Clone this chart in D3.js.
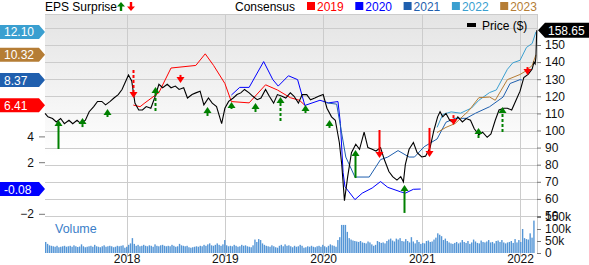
<!DOCTYPE html>
<html>
<head>
<meta charset="utf-8">
<script src="https://cdn.jsdelivr.net/npm/d3@7"></script>
<style>
  body { margin: 0; background: #fff; }
  svg { font-family: Arial, "Liberation Sans", sans-serif; }
</style>
</head>
<body>
<script>
// weekly close (date, $)
const price = [
  ['2017-03-04',110],['2017-03-15',108],['2017-04-01',107],['2017-04-15',105],['2017-05-01',107],
  ['2017-05-15',104],['2017-06-01',106],['2017-06-15',104],['2017-07-01',106],['2017-07-15',104],
  ['2017-08-01',106],['2017-08-15',111],['2017-09-01',114],['2017-09-15',117],['2017-10-01',117],
  ['2017-10-15',115],['2017-11-01',117],['2017-11-15',119],['2017-12-01',121],['2017-12-15',124],
  ['2018-01-01',130],['2018-01-08',132.5],['2018-01-20',129],['2018-02-01',116],['2018-02-15',112],
  ['2018-03-01',112],['2018-03-15',114],['2018-04-01',113],['2018-04-15',119],['2018-05-01',127],
  ['2018-05-15',125],['2018-06-01',127],['2018-06-15',125],['2018-07-01',126],['2018-07-15',124],
  ['2018-08-01',125],['2018-08-15',119],['2018-09-01',121],['2018-09-15',122],['2018-10-01',123],
  ['2018-10-15',115],['2018-11-01',119],['2018-11-15',116],['2018-12-01',114],['2018-12-20',104],
  ['2019-01-01',113],['2019-01-15',117],['2019-02-01',119],['2019-02-15',121],['2019-03-01',122],
  ['2019-03-15',124],['2019-04-01',122],['2019-04-15',120],['2019-05-01',118],['2019-05-15',119],
  ['2019-06-01',124],['2019-06-15',120],['2019-07-01',116],['2019-07-15',121],['2019-08-01',120],
  ['2019-08-15',119],['2019-09-01',122],['2019-09-15',120],['2019-10-01',116],['2019-10-15',121],
  ['2019-11-01',121],['2019-11-15',118],['2019-12-01',119],['2019-12-15',120],['2020-01-01',121],
  ['2020-01-15',113],['2020-02-01',108],['2020-02-15',106],['2020-03-01',93],['2020-03-10',80],
  ['2020-03-20',59],['2020-04-01',73],['2020-04-15',87],['2020-05-01',92],['2020-05-15',89],
  ['2020-06-01',99],['2020-06-15',90],['2020-07-01',89],['2020-07-15',88],['2020-08-01',90],
  ['2020-08-15',83],['2020-09-01',76],['2020-09-15',73],['2020-10-01',71],['2020-10-15',73],
  ['2020-10-25',70],['2020-11-01',80],['2020-11-15',89],['2020-12-01',93],['2020-12-15',87],
  ['2021-01-01',84.5],['2021-01-15',85],['2021-02-01',90],['2021-02-15',100],['2021-03-01',108],
  ['2021-03-10',111],['2021-03-20',108],['2021-04-01',110],['2021-04-15',106],['2021-05-01',104.5],
  ['2021-05-15',108],['2021-06-01',105],['2021-06-15',107],['2021-07-01',106],['2021-07-15',101],
  ['2021-08-01',97.5],['2021-08-15',99],['2021-09-01',96],['2021-09-15',98],['2021-10-01',106],
  ['2021-10-15',112],['2021-11-01',113],['2021-11-15',113],['2021-12-01',112],['2021-12-15',117],
  ['2022-01-01',123],['2022-01-15',131],['2022-02-01',133],['2022-02-15',136],['2022-02-22',140],
  ['2022-02-26',139],['2022-03-01',143],['2022-03-04',158.65]
];

// consensus EPS estimates per fiscal year
const cons2019 = [
  ['2018-01-26',6.43],['2018-02-20',6.3],['2018-03-10',6.6],['2018-05-01',7.4],['2018-06-15',9.3],
  ['2018-09-15',9.5],['2018-10-20',10.4],['2018-11-20',9.5],['2019-01-01',8.1],['2019-01-25',6.7],
  ['2019-04-01',6.6],['2019-06-01',8.0],['2019-07-15',7.6],['2019-09-01',7.0],['2019-10-05',6.8],
  ['2019-10-25',6.41]
];
const cons2020 = [
  ['2019-01-25',7.2],['2019-02-25',7.8],['2019-04-01',7.8],['2019-05-25',9.8],['2019-06-28',8.4],
  ['2019-07-18',7.9],['2019-08-25',8.7],['2019-09-28',8.4],['2019-10-25',6.4],['2019-12-20',6.8],
  ['2020-01-20',6.6],['2020-02-25',6.7],['2020-03-05',5.0],['2020-03-15',1.2],['2020-03-22',0.1],
  ['2020-04-28',-0.9],['2020-05-25',-0.4],['2020-07-01',0],['2020-08-01',0.5],['2020-08-28',0.05],
  ['2020-10-15',-0.3],['2020-11-01',-0.4],['2020-12-01',-0.1],['2020-12-28',-0.08]
];
const cons2021 = [
  ['2020-01-14',6.6],['2020-02-20',6.5],['2020-03-25',2.4],['2020-04-28',0.85],['2020-06-20',0.85],
  ['2020-08-01',2.2],['2020-08-28',2.4],['2020-10-05',2.9],['2020-11-15',2.4],['2020-12-05',2.4],
  ['2021-01-10',3.2],['2021-02-27',3.8],['2021-04-01',5.1],['2021-05-05',5.4],['2021-06-15',5.4],
  ['2021-07-20',5.8],['2021-09-10',6.3],['2021-10-30',7.05],['2021-11-25',8.1],['2022-01-01',8.4],
  ['2022-01-08',8.37]
];
const cons2022 = [
  ['2021-02-27',4.7],['2021-03-20',5.7],['2021-04-20',5.9],['2021-05-25',5.8],['2021-07-05',6.2],
  ['2021-08-01',6.8],['2021-09-10',7.4],['2021-10-05',7.6],['2021-11-15',9.2],['2021-12-05',9.7],
  ['2022-01-01',9.9],['2022-01-25',10.9],['2022-02-15',11.2],['2022-03-01',12.1]
];
const cons2023 = [
  ['2021-02-27',4.3],['2021-04-01',4.7],['2021-05-05',5.0],['2021-06-25',6.0],['2021-08-01',7.0],
  ['2021-09-10',7.05],['2021-10-01',6.8],['2021-11-15',8.4],['2022-01-01',8.8],['2022-01-25',9.1],
  ['2022-02-15',9.5],['2022-03-01',10.32]
];

// earnings surprises: date, direction, arrow tip ($), arrow tail ($), small/dashed
const surprises = [
  ['2017-04-20','up',106.1,89.2,false],['2017-07-21','up',107.3,102,true],
  ['2017-10-22','up',112.6,107.9,true],['2018-01-26','down',119,135.4,true],
  ['2018-04-17','up',125.4,111.4,true],['2018-07-19','down',127.8,132.5,true],
  ['2018-10-28','up',113.7,108.5,true],['2019-01-25','up',116.7,112.6,true],
  ['2019-04-21','up',116.1,110.8,true],['2019-07-26','up',119.6,105.6,true],
  ['2019-10-24','up',114.9,110.2,true],['2020-01-24','up',106.1,101.5,true],
  ['2020-04-27','up',88.6,72.2,false],['2020-07-25','down',83.9,100.3,false],
  ['2020-10-26','up',68.1,51.8,false],['2021-01-27','down',84.5,101.5,false],
  ['2021-04-26','down',103.2,109,true],['2021-07-28','up',101.5,95.6,true],
  ['2021-10-25','up',113.7,99.1,true],['2022-01-26','down',132.5,137.1,true]
];

// weekly volume (thousands), first week starting volStart
const volStart = '2017-03-04';
const volume = [
  46,38,32,30,28,26,30,24,26,28,30,26,28,
  30,26,32,28,25,27,36,28,24,26,28,30,26,
  34,28,26,24,28,32,26,28,30,28,24,26,30,
  28,30,32,22,26,34,40,62,38,30,34,28,30,
  34,30,28,32,30,26,36,30,28,32,34,30,28,
  30,28,34,30,26,28,38,32,30,28,30,24,22,
  24,26,28,26,30,28,34,30,36,40,32,30,34,
  40,34,30,36,54,32,28,30,28,34,30,26,28,
  34,30,32,28,26,24,32,56,46,58,54,40,34,
  30,28,26,32,28,24,22,30,34,28,36,30,32,
  28,24,30,26,28,34,30,22,24,28,26,30,26,
  24,28,30,26,34,28,24,30,36,32,30,26,54,
  66,117,117,117,88,62,56,52,50,48,46,50,44,
  42,40,48,44,36,30,34,50,46,42,44,40,50,
  56,60,52,48,60,56,62,50,48,58,50,44,66,
  48,40,54,46,38,42,40,50,52,46,48,56,64,
  82,76,70,54,60,50,44,40,38,42,46,40,44,
  54,46,42,50,38,44,56,48,42,40,52,46,44,
  48,54,44,46,40,50,52,46,54,44,40,44,46,
  50,42,58,44,54,46,100,62,58,56,82,64,135
];

const years = ['2018','2019','2020','2021','2022'];
const priceTicks = [50,60,70,80,90,100,110,120,130,140,150];
const epsTicks = [-2,2,4];   // the other levels sit under the badges
const volTicks = [0,50,100,150];

const series = [
  {name: '2019', data: cons2019, color: '#ff0000', badge: '6.41'},
  {name: '2020', data: cons2020, color: '#0000ff', badge: '-0.08'},
  {name: '2021', data: cons2021, color: '#1f5fae', badge: '8.37'},
  {name: '2022', data: cons2022, color: '#3a9fd0', badge: '12.10'},
  {name: '2023', data: cons2023, color: '#b57d35', badge: '10.32'}
];

const parse = d3.timeParse('%Y-%m-%d');
const W = 589, H = 265;
const L = 45, R = 537, T = 14, PB = 217, VB = 253;

const x = d3.scaleTime().domain([parse('2017-03-04'), parse('2022-03-05')]).range([L, R]);
const yP = d3.scaleLinear().domain([50, 150]).range([216, 45]);
const yE = d3.scaleLinear().domain([-2, 12]).range([213.8, 33.2]);
const yV = d3.scaleLinear().domain([0, 150]).range([VB, 217]);

const svg = d3.select('body').append('svg').attr('width', W).attr('height', H);

const grad = svg.append('defs').append('linearGradient')
  .attr('id', 'bg').attr('x1', 0).attr('y1', 0).attr('x2', 0).attr('y2', 1);
grad.append('stop').attr('offset', '0%').attr('stop-color', '#e4e4e4');
grad.append('stop').attr('offset', '70%').attr('stop-color', '#ffffff');

svg.append('rect').attr('x', L).attr('y', T).attr('width', R - L).attr('height', PB - T)
  .attr('fill', 'url(#bg)');

// grid
svg.append('g').selectAll('line').data(priceTicks.concat([160]))
  .join('line')
  .attr('x1', L).attr('x2', R)
  .attr('y1', d => Math.round(yP(d)) + 0.5).attr('y2', d => Math.round(yP(d)) + 0.5)
  .attr('stroke', '#cccccc');
svg.append('line').attr('x1', L).attr('x2', R).attr('y1', T + 0.5).attr('y2', T + 0.5).attr('stroke', '#cccccc');
svg.append('g').selectAll('line').data(years)
  .join('line')
  .attr('x1', d => Math.round(x(parse(d + '-01-01'))) + 0.5)
  .attr('x2', d => Math.round(x(parse(d + '-01-01'))) + 0.5)
  .attr('y1', T).attr('y2', 257)
  .attr('stroke', '#cccccc');
svg.append('line').attr('x1', R + 0.5).attr('x2', R + 0.5).attr('y1', T).attr('y2', VB).attr('stroke', '#cccccc');

// volume
const vStart = parse(volStart);
svg.append('g').selectAll('rect').data(volume)
  .join('rect')
  .attr('x', (d, i) => x(d3.timeDay.offset(vStart, 7 * i)))
  .attr('width', 1.4)
  .attr('y', d => yV(d))
  .attr('height', d => VB - yV(d))
  .attr('fill', '#5596d6');

svg.append('text').attr('x', 55).attr('y', 233).attr('font-size', 12.5)
  .attr('fill', '#3a7ec8').text('Volume');

// axes
const axR = svg.append('g').attr('transform', `translate(${R},0)`)
  .call(d3.axisRight(yP).tickValues(priceTicks).tickSize(4).tickPadding(4));
const axV = svg.append('g').attr('transform', `translate(${R},0)`)
  .call(d3.axisRight(yV).tickValues(volTicks).tickSize(4).tickPadding(4)
    .tickFormat(d => d ? d + 'k' : '0'));
const axL = svg.append('g').attr('transform', `translate(${L},0)`)
  .call(d3.axisLeft(yE).tickValues(epsTicks).tickSize(6).tickPadding(5));
const axX = svg.append('g').attr('transform', `translate(0,${VB})`)
  .call(d3.axisBottom(x).tickValues(years.map(y => parse(y + '-01-01')))
    .tickFormat(d3.timeFormat('%Y')).tickSize(0).tickPadding(0));
[axR, axV, axL, axX].forEach(a => {
  a.select('.domain').remove();
  a.selectAll('line').attr('stroke', '#777');
  a.selectAll('text').attr('font-size', 12).attr('fill', '#111')
    .attr('font-family', 'Arial, "Liberation Sans", sans-serif');
});
axX.selectAll('text').attr('y', 10).attr('dy', null);

// consensus lines
const eLine = d3.line().x(d => x(parse(d[0]))).y(d => yE(d[1]));
svg.append('g').selectAll('path').data(series)
  .join('path')
  .attr('d', d => eLine(d.data))
  .attr('fill', 'none')
  .attr('stroke', d => d.color)
  .attr('stroke-width', 1);

// price line
const pLine = d3.line().x(d => x(parse(d[0]))).y(d => yP(d[1]));
svg.append('path').attr('d', pLine(price))
  .attr('fill', 'none').attr('stroke', '#000').attr('stroke-width', 1.1);

// surprise arrows
const arr = svg.append('g');
surprises.forEach(([date, dir, tip, tail, dashed]) => {
  const cx = Math.round(x(parse(date))) + 0.5;
  const ty = yP(tip), tl = yP(tail);
  const col = dir === 'up' ? '#008000' : '#ff0000';
  const s = dir === 'up' ? 1 : -1;
  arr.append('line')
    .attr('x1', cx).attr('x2', cx)
    .attr('y1', tl).attr('y2', ty + s * 5)
    .attr('stroke', col).attr('stroke-width', 2)
    .attr('stroke-dasharray', dashed ? '3,2' : null);
  arr.append('path')
    .attr('d', `M${cx},${ty} L${cx - 4},${ty + s * 6} L${cx + 4},${ty + s * 6} Z`)
    .attr('fill', col);
});

// left badges
series.forEach(s => {
  const cy = yE(+s.badge);
  svg.append('path')
    .attr('d', `M0,${cy - 7} H39 L45,${cy} L39,${cy + 7} H0 Z`)
    .attr('fill', s.color);
  svg.append('text').attr('x', 4).attr('y', cy + 4.5)
    .attr('font-size', 12).attr('fill', '#fff').text(s.badge);
});

// price badge
const last = price[price.length - 1];
const py = yP(last[1]);
svg.append('path')
  .attr('d', `M538,${py} L545,${py - 7.5} H589 V${py + 7.5} H545 Z`)
  .attr('fill', '#000');
svg.append('text').attr('x', 548).attr('y', py + 4.5)
  .attr('font-size', 12).attr('fill', '#fff').text(last[1].toFixed(2));

// legend
svg.append('text').attr('x', 45).attr('y', 11).attr('font-size', 12).attr('fill', '#000').text('EPS Surprise');
svg.append('path').attr('d', 'M121,2 L117,6.5 H119.8 V11 H122.2 V6.5 H125 Z').attr('fill', '#008000');
svg.append('path').attr('d', 'M131,11 L127,6.5 H129.8 V2 H132.2 V6.5 H135 Z').attr('fill', '#ff0000');
svg.append('text').attr('x', 235).attr('y', 11).attr('font-size', 12).attr('fill', '#000').text('Consensus');

const leg = svg.append('g').selectAll('g').data(series).join('g')
  .attr('transform', (d, i) => `translate(${307 + i * 48.3},0)`);
leg.append('rect').attr('x', 0).attr('y', 2).attr('width', 8).attr('height', 8).attr('fill', d => d.color);
leg.append('text').attr('x', 10).attr('y', 11).attr('font-size', 12)
  .attr('fill', d => d.color).text(d => d.name);

svg.append('rect').attr('x', 467).attr('y', 23).attr('width', 9).attr('height', 4).attr('fill', '#000');
svg.append('text').attr('x', 482).attr('y', 30).attr('font-size', 12).attr('fill', '#000').text('Price ($)');
</script>
</body>
</html>
